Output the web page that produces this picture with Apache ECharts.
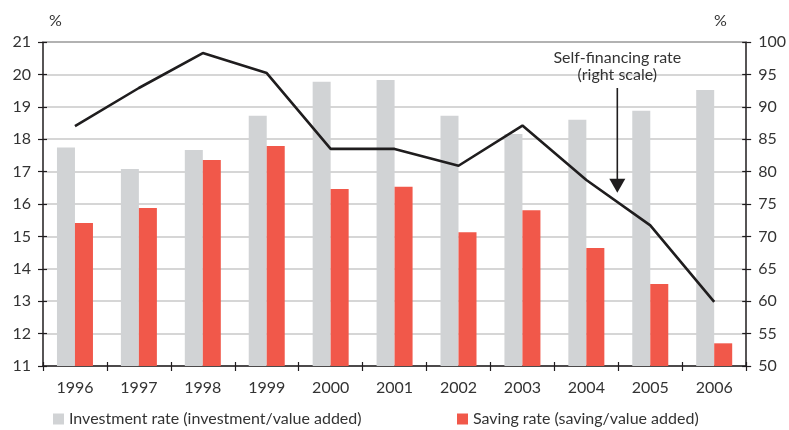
<!DOCTYPE html>
<html>
<head>
<meta charset="utf-8">
<script src="https://cdn.jsdelivr.net/npm/echarts@6/dist/echarts.min.js"></script>
<style>
  html, body { margin: 0; padding: 0; background: #fff; }
  #chart { width: 789px; height: 430px; }
</style>
</head>
<body>
<div id="chart"></div>
<script>
// Years on the category axis
const years = ['1996', '1997', '1998', '1999', '2000', '2001', '2002', '2003', '2004', '2005', '2006'];
// Investment rate (investment/value added), %, left scale
const investmentRate = [17.74, 17.08, 17.67, 18.72, 19.77, 19.83, 18.72, 18.16, 18.60, 18.88, 19.52];
// Saving rate (saving/value added), %, left scale
const savingRate = [15.41, 15.88, 17.36, 17.79, 16.46, 16.53, 15.13, 15.81, 14.64, 13.53, 11.70];
// Self-financing rate, %, right scale
const selfFinancing = [87.0, 92.9, 98.3, 95.2, 83.5, 83.5, 80.9, 87.1, 78.7, 71.7, 59.9];

const FONT = 'Lato';
const TEXT = '#333333';
const GREY = '#d1d3d5';
const RED = '#f1584a';
const INK = '#1f1d1e';

const chart = echarts.init(document.getElementById('chart'), null, { renderer: 'canvas' });

const tickOut = { show: true, inside: false, length: 5, lineStyle: { color: INK, width: 1.2 } };
const tickIn = { show: true, inside: true, length: 4, lineStyle: { color: INK, width: 1.2 } };

chart.setOption({
  animation: false,
  backgroundColor: '#ffffff',
  textStyle: { fontFamily: FONT },
  grid: { left: 43, right: 41, top: 42, bottom: 64, containLabel: false },
  legend: [
    {
      data: ['Investment rate (investment/value added)'],
      left: 48, top: 406, icon: 'rect', itemWidth: 11, itemHeight: 11, itemGap: 6,
      textStyle: { fontFamily: FONT, fontSize: 16, color: TEXT }
    },
    {
      data: ['Saving rate (saving/value added)'],
      left: 452, top: 406, icon: 'rect', itemWidth: 11, itemHeight: 11, itemGap: 6,
      textStyle: { fontFamily: FONT, fontSize: 16, color: TEXT }
    }
  ],
  xAxis: [
    {
      type: 'category', data: years, position: 'bottom',
      axisLine: { onZero: false, lineStyle: { color: INK, width: 1.5 } },
      axisTick: tickOut,
      axisLabel: { color: TEXT, fontSize: 16, fontFamily: FONT, margin: 14 },
      splitLine: { show: false }
    },
    {
      type: 'category', data: years, position: 'bottom',
      axisLine: { show: false, onZero: false },
      axisTick: tickIn,
      axisLabel: { show: false },
      splitLine: { show: false }
    },
    {
      type: 'category', data: years, position: 'top',
      axisLine: { show: true, onZero: false, lineStyle: { color: '#a6a6a6', width: 1.5 } },
      axisTick: { show: false },
      axisLabel: { show: false },
      splitLine: { show: false }
    }
  ],
  yAxis: [
    {
      type: 'value', position: 'left', min: 11, max: 21, interval: 1,
      axisLine: { show: true, lineStyle: { color: INK, width: 1.5 } },
      axisTick: tickOut,
      axisLabel: { color: TEXT, fontSize: 16, fontFamily: FONT, margin: 12 },
      splitLine: { show: true, lineStyle: { color: '#c9c9c9', width: 1.5 } }
    },
    {
      type: 'value', position: 'right', min: 50, max: 100, interval: 5,
      axisLine: { show: true, lineStyle: { color: INK, width: 1.5 } },
      axisTick: tickOut,
      axisLabel: { color: TEXT, fontSize: 16, fontFamily: FONT, margin: 12 },
      splitLine: { show: false }
    },
    {
      type: 'value', position: 'left', min: 11, max: 21, interval: 1,
      axisLine: { show: false }, axisTick: tickIn,
      axisLabel: { show: false }, splitLine: { show: false }
    },
    {
      type: 'value', position: 'right', min: 50, max: 100, interval: 5,
      axisLine: { show: false }, axisTick: tickIn,
      axisLabel: { show: false }, splitLine: { show: false }
    }
  ],
  series: [
    {
      name: 'Investment rate (investment/value added)',
      type: 'bar', xAxisIndex: 0, yAxisIndex: 0,
      data: investmentRate, barWidth: 18, barGap: '0%',
      itemStyle: { color: GREY }
    },
    {
      name: 'Saving rate (saving/value added)',
      type: 'bar', xAxisIndex: 0, yAxisIndex: 0,
      data: savingRate, barWidth: 18, barGap: '0%',
      itemStyle: { color: RED }
    },
    {
      name: 'Self-financing rate',
      type: 'line', xAxisIndex: 0, yAxisIndex: 1,
      data: selfFinancing, symbol: 'none', z: 5,
      lineStyle: { color: INK, width: 2.6 }
    }
  ]
});

// Axis unit captions and the callout pointing at the self-financing line
const p4 = chart.convertToPixel({ xAxisIndex: 0, yAxisIndex: 1 }, [8, selfFinancing[8]]);
const p5 = chart.convertToPixel({ xAxisIndex: 0, yAxisIndex: 1 }, [9, selfFinancing[9]]);
const ax = (p4[0] + p5[0]) / 2 - 1;
const lineY = (p4[1] + p5[1]) / 2;
const tipY = lineY - 10;

chart.setOption({
  graphic: [
    { type: 'text', left: 49, top: 13, style: { text: '%', font: '16px ' + FONT, fill: TEXT } },
    { type: 'text', left: 714, top: 13, style: { text: '%', font: '16px ' + FONT, fill: TEXT } },
    {
      type: 'text', x: ax, y: 49,
      style: { text: 'Self-financing rate\n(right scale)', font: '16px ' + FONT, fill: TEXT,
               align: 'center', verticalAlign: 'top', lineHeight: 17 }
    },
    {
      type: 'line', shape: { x1: ax, y1: 88, x2: ax, y2: tipY - 12 },
      style: { stroke: INK, lineWidth: 1.6 }
    },
    {
      type: 'polygon',
      shape: { points: [[ax - 8, tipY - 14], [ax + 8, tipY - 14], [ax, tipY]] },
      style: { fill: INK }
    }
  ]
});
</script>
</body>
</html>
